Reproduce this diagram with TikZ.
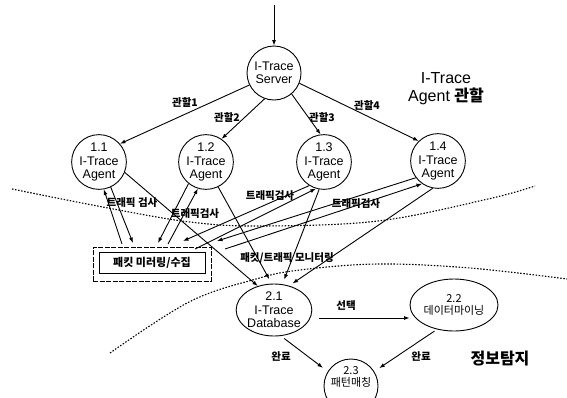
\documentclass[tikz,border=0pt]{standalone}
\usepackage{fontspec}
\setmainfont{Liberation Sans}
\newfontfamily\kr{Noto Sans CJK KR}
\usetikzlibrary{arrows.meta,shapes.geometric}
\begin{document}
\begin{tikzpicture}[x=1pt,y=-1pt,
  arr/.style={-{Latex[length=5.5pt,width=4pt]}, line width=0.9pt},
  proc/.style={circle, draw, line width=0.9pt, minimum size=54pt, inner sep=0pt, align=center, font=\fontsize{12.5}{13.5}\selectfont},
  ell/.style={ellipse, draw, line width=0.9pt, inner sep=0pt, align=center},
  lbl/.style={font=\kr\bfseries\fontsize{10.5}{12}\selectfont, inner sep=0pt},
  dotline/.style={line width=1.1pt, dash pattern=on 1.5pt off 1.6pt}
]
\useasboundingbox (0,0) rectangle (567,397);

% nodes
\node[proc] (srv) at (274,73) {I-Trace\\Server};
\node[proc] (a1) at (99,162) {1.1\\I-Trace\\Agent};
\node[proc] (a2) at (206,162) {1.2\\I-Trace\\Agent};
\node[proc] (a3) at (324,162) {1.3\\I-Trace\\Agent};
\node[proc] (a4) at (438,161) {1.4\\I-Trace\\Agent};
\node[ell, minimum width=70pt, minimum height=52pt, font=\fontsize{12.5}{13.5}\selectfont] (db) at (274,310) {2.1\\I-Trace\\Database};
\node[ell, minimum width=88pt, minimum height=52pt, font=\kr\fontsize{11}{12.5}\selectfont] (dm) at (454,305) {2.2\\데이터마이닝};
\node[proc] (pm) at (351,386) {};
\node[font=\kr\fontsize{11}{12.5}\selectfont, align=center, inner sep=0pt] (pmt) at (351,377) {2.3\\패턴매칭};

\node[draw, line width=0.6pt, dash pattern=on 5pt off 1.5pt, minimum width=118pt, minimum height=34pt, inner sep=0pt] (box) at (152,264) {};
\node[draw, line width=0.9pt, minimum width=106pt, minimum height=21pt, inner sep=0pt, font=\kr\bfseries\fontsize{11}{12}\selectfont] (boxin) at (152,262.5) {패킷 미러링/수집};

\node[font=\fontsize{16}{18}\selectfont, align=center, inner sep=0pt] (tag) at (446,89) {I-Trace\\Agent {\kr\bfseries 관할}};
\node[font=\kr\bfseries\fontsize{16}{18}\selectfont, inner sep=0pt] (tdet) at (500,359) {정보탐지};

% dotted boundaries
\draw[dotline] plot[smooth, tension=0.6] coordinates {(12,189) (108,208) (190,222) (260,226) (378,221) (488,199) (535,186)};
\draw[dotline] plot[smooth, tension=0.6] coordinates {(110,353) (189,302) (256,279) (300,270) (378,264) (470,268) (567,279)};

% top arrow
\coordinate (in) at (274,5);
\draw[arr] (in) -- (srv);

% server to agents
\draw[arr] (srv.206) -- (a1.41);
\draw[arr] (srv.-110) -- (a2.56);
\draw[arr] (srv.-50) -- (a3.97);
\draw[arr] (srv.-22) -- (a4.134);
\node[lbl] (l1) at (185,103) {관할1};
\node[lbl] (l2) at (227,118) {관할2};
\node[lbl] (l3) at (322,118) {관할3};
\node[lbl] (l4) at (367,106) {관할4};

% agents <-> box
\coordinate (b1u) at (122,244);
\coordinate (b1d) at (133,243);
\coordinate (b2u) at (168,244);
\coordinate (b2d) at (158,243);
\coordinate (b3d) at (183,241);
\coordinate (b3u) at (195,249);
\coordinate (b4d) at (217,241);
\coordinate (b4u) at (225,249);
\draw[arr] (b1u) -- (a1.-80);
\draw[arr] (a1.-65) -- (b1d);
\draw[arr] (b2u) -- (a2.-107);
\draw[arr] (a2.-129) -- (b2d);
\draw[arr] (a3.-122) -- (b3d);
\draw[arr] (b3u) -- (a3.-107);
\draw[arr] (a4.-143) -- (b4d);
\draw[arr] (b4u) -- (a4.-125);
\node[lbl] (t1) at (132,203) {트래픽 검사};
\node[lbl] (t2) at (195,214) {트래픽검사};
\node[lbl] (t3) at (270,196) {트래픽검사};
\node[lbl] (t4) at (356,204) {트래픽검사};

% agents to database
\draw[arr] (a1.-22) -- (db.124);
\draw[arr, shorten >=5pt] (a2.-64) -- (db.95);
\draw[arr, shorten >=5pt] (a3.-100) -- (db.72);
\draw[arr, shorten >=4pt] (a4.-101) -- (db.58);
\node[lbl] (mon) at (287,258) {패킷/트래픽 모니터링};

% bottom part
\draw[arr] ([xshift=7pt,yshift=-8pt]db.east) -- ([yshift=-13pt]dm.west);
\node[lbl] (sel) at (346,306) {선택};
\draw[arr, shorten <=4pt, shorten >=6pt] (db.-75) -- (pm.148);
\draw[arr, shorten <=3pt, shorten >=6pt] (dm.-125) -- (pm.32);
\node[lbl] (c1) at (281,356) {완료};
\node[lbl] (c2) at (421,356) {완료};
\end{tikzpicture}
\end{document}
